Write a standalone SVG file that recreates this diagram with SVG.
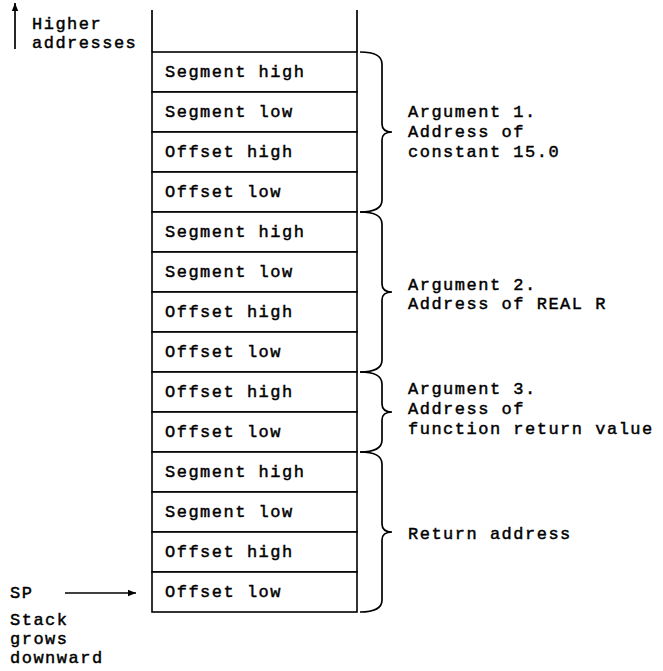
<svg xmlns="http://www.w3.org/2000/svg" width="663" height="671" viewBox="0 0 663 671">
<style>
text{font-family:"Liberation Mono","DejaVu Sans Mono",monospace;font-size:17px;letter-spacing:1.5px;fill:#000;stroke:#000;stroke-width:0.45}
.ln{stroke:#000;stroke-width:1.7;fill:none}
.cell{fill:#fff;stroke:#000;stroke-width:1.6}
</style>
<defs>
<marker id="ah" viewBox="0 0 10 10" refX="10" refY="5" markerWidth="8" markerHeight="8" orient="auto-start-reverse" markerUnits="userSpaceOnUse">
<path d="M0,1 L10,5 L0,9 z" fill="#000"/>
</marker>
</defs>
<rect width="663" height="671" fill="#fff"/>
<g id="column">
<line class="ln" x1="152" y1="10" x2="152" y2="52"/>
<line class="ln" x1="357" y1="10" x2="357" y2="52"/>
</g>
<g id="cells">
<g id="c1"><rect class="cell" x="152" y="52" width="205" height="40"/><text x="165" y="77">Segment high</text></g>
<g id="c2"><rect class="cell" x="152" y="92" width="205" height="40"/><text x="165" y="117">Segment low</text></g>
<g id="c3"><rect class="cell" x="152" y="132" width="205" height="40"/><text x="165" y="157">Offset high</text></g>
<g id="c4"><rect class="cell" x="152" y="172" width="205" height="40"/><text x="165" y="197">Offset low</text></g>
<g id="c5"><rect class="cell" x="152" y="212" width="205" height="40"/><text x="165" y="237">Segment high</text></g>
<g id="c6"><rect class="cell" x="152" y="252" width="205" height="40"/><text x="165" y="277">Segment low</text></g>
<g id="c7"><rect class="cell" x="152" y="292" width="205" height="40"/><text x="165" y="317">Offset high</text></g>
<g id="c8"><rect class="cell" x="152" y="332" width="205" height="40"/><text x="165" y="357">Offset low</text></g>
<g id="c9"><rect class="cell" x="152" y="372" width="205" height="40"/><text x="165" y="397">Offset high</text></g>
<g id="c10"><rect class="cell" x="152" y="412" width="205" height="40"/><text x="165" y="437">Offset low</text></g>
<g id="c11"><rect class="cell" x="152" y="452" width="205" height="40"/><text x="165" y="477">Segment high</text></g>
<g id="c12"><rect class="cell" x="152" y="492" width="205" height="40"/><text x="165" y="517">Segment low</text></g>
<g id="c13"><rect class="cell" x="152" y="532" width="205" height="40"/><text x="165" y="557">Offset high</text></g>
<g id="c14"><rect class="cell" x="152" y="572" width="205" height="40"/><text x="165" y="597">Offset low</text></g>
</g>
<g id="connectors">
<line class="ln" x1="15" y1="49" x2="15" y2="3" marker-end="url(#ah)"/>
<line class="ln" x1="65" y1="593" x2="136" y2="593" marker-end="url(#ah)"/>
<path class="ln" d="M360,52 Q382,52 382,64 L382,124 Q382,132 392,132 Q382,132 382,140 L382,200 Q382,212 360,212"/>
<path class="ln" d="M360,212 Q382,212 382,224 L382,284 Q382,292 392,292 Q382,292 382,300 L382,360 Q382,372 360,372"/>
<path class="ln" d="M360,372 Q382,372 382,384 L382,404 Q382,412 392,412 Q382,412 382,420 L382,440 Q382,452 360,452"/>
<path class="ln" d="M360,452 Q382,452 382,464 L382,524 Q382,532 392,532 Q382,532 382,540 L382,600 Q382,612 360,612"/>
</g>
<g id="labels">
<text x="32" y="29">Higher</text>
<text x="32" y="48">addresses</text>
<text x="408" y="117">Argument 1.</text>
<text x="408" y="137">Address of</text>
<text x="408" y="157">constant 15.0</text>
<text x="408" y="290">Argument 2.</text>
<text x="408" y="309">Address of REAL R</text>
<text x="408" y="394">Argument 3.</text>
<text x="408" y="414">Address of</text>
<text x="408" y="434">function return value</text>
<text x="408" y="539">Return address</text>
<text x="10" y="598">SP</text>
<text x="10" y="625">Stack</text>
<text x="10" y="644">grows</text>
<text x="10" y="663">downward</text>
</g>
</svg>
